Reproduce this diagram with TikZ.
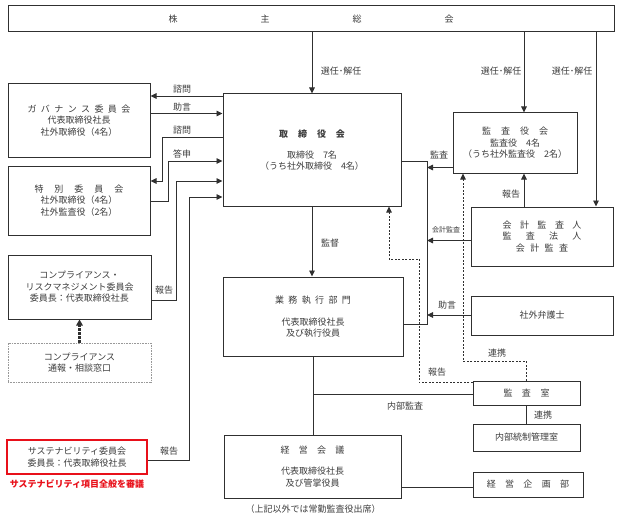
\documentclass[tikz,border=0pt]{standalone}
\usepackage{fontspec}
\setmainfont{Noto Sans CJK JP}
\usetikzlibrary{arrows.meta,calc}
\definecolor{ln}{HTML}{303030}
\definecolor{tx}{HTML}{3C3C3C}
\definecolor{rd}{HTML}{E8101A}
\newcommand\sk[1]{\hspace*{#1pt}}
\newcommand\bx[6][]{\node[box,#1,minimum width={(#5-#3)*1pt},minimum height={(#6-#4)*1pt}] (#2) at ({(#3+#5)/2},{(#4+#6)/2})}
\tikzset{
  box/.style={draw=ln, line width=1pt, rectangle, inner sep=0pt, align=center, text=tx, font=\fontsize{9}{11.5}\selectfont},
  con/.style={draw=ln, line width=0.9pt},
  arr/.style={con, -{Triangle[length=6pt,width=5.5pt]}},
  dsh/.style={draw=ln, line width=0.8pt, dash pattern=on 2pt off 1.5pt},
  darr/.style={dsh, -{Triangle[length=6pt,width=5.5pt]}},
  dotarr/.style={draw=ln, line width=2.2pt, dash pattern=on 2.4pt off 1.6pt, -{Triangle[length=6pt,width=6.5pt]}},
  lbl/.style={text=tx, font=\fontsize{9}{11}\selectfont, inner sep=0pt},
  slbl/.style={text=tx, font=\fontsize{7}{9}\selectfont, inner sep=0pt},
}
\begin{document}
\begin{tikzpicture}[x=1pt,y=-1pt]
\useasboundingbox (0,0) rectangle (619,519);

% boxes
\bx{gm}{8}{6}{614}{32}{株\sk{83}主\sk{83}総\sk{83}会};
\bx{bod}{223}{94}{401}{206}{\textbf{取\sk{10}締\sk{10}役\sk{10}会}\\[9.5pt]取締役　7名\\（うち社外取締役　4名）};
\bx{gov}{8}{84}{150}{157}{ガ\sk{4.4}バ\sk{4.4}ナ\sk{4.4}ン\sk{4.4}ス\sk{4.4}委\sk{4.4}員\sk{4.4}会\\代表取締役社長\\社外取締役（4名）};
\bx{spc}{8}{166}{150}{235}{特\sk{11}別\sk{11}委\sk{11}員\sk{11}会\\社外取締役（4名）\\社外監査役（2名）};
\bx{crm}{8}{255}{151}{319}{コンプライアンス・\\リスクマネジメント委員会\\委員長：代表取締役社長};
\bx[draw=gray!80, line width=0.6pt, dash pattern=on 1pt off 0.6pt]{cwin}{8}{343}{151}{382}{コンプライアンス\\通報・相談窓口};
\bx[draw=rd, line width=2pt]{sus}{7}{440}{147}{474}{サステナビリティ委員会\\委員長：代表取締役社長};
\node[text=rd, font=\fontsize{9}{11}\selectfont\bfseries, inner sep=0pt] (sustxt) at (77,484) {サステナビリティ項目全般を審議};
\bx{bex}{223}{277}{403}{356}{業\sk{4.4}務\sk{4.4}執\sk{4.4}行\sk{4.4}部\sk{4.4}門\\[10.5pt]代表取締役社長\\及び執行役員};
\bx{mgm}{224}{435}{401}{498}{経\sk{9.3}営\sk{9.3}会\sk{9.3}議\\[9.5pt]代表取締役社長\\及び管掌役員};
\node[lbl] (cap) at (313,509) {（上記以外では常勤監査役出席）};
\bx{kan}{453}{113}{577}{173}{監\sk{10}査\sk{10}役\sk{10}会\\監査役　4名\\（うち社外監査役　2名）};
\bx{acc}{471}{207}{613}{266}{会\sk{8.5}計\sk{8.5}監\sk{8.5}査\sk{8.5}人\\監\sk{14.3}査\sk{14.3}法\sk{14.3}人\\会\sk{5.4}計\sk{5.4}監\sk{5.4}査};
\bx{law}{471}{296}{613}{335}{社外弁護士};
\bx{aud}{473}{381}{580}{405}{監\sk{9.5}査\sk{9.5}室};
\bx{ict}{473}{424}{580}{451}{内部統制管理室};
\bx{plan}{473}{472}{583}{497}{経\sk{9.3}営\sk{9.3}企\sk{9.3}画\sk{9.3}部};

% helper coordinates
\coordinate (v2) at (524,0);
\coordinate (v3) at (596,0);
\coordinate (h1) at (0,96);
\coordinate (h2) at (0,113.5);
\coordinate (h3) at (0,137);
\coordinate (b3) at (162,181);
\coordinate (h4) at (0,201);
\coordinate (b4) at (168,161);
\coordinate (h5) at (0,300);
\coordinate (b5) at (176,181);
\coordinate (h6) at (0,460);
\coordinate (b6) at (189,197);
\coordinate (bx1) at (427,161);
\coordinate (bx2) at (427,324);
\coordinate (hk) at (0,167.5);
\coordinate (ha) at (0,240.5);
\coordinate (hl) at (0,315);
\coordinate (d1) at (526,361);
\coordinate (d2) at (463,361);
\coordinate (e0) at (0,382.5);
\coordinate (e1) at (419,382.5);
\coordinate (e2) at (419,259);
\coordinate (e3) at (389,259);
\coordinate (j) at (0,394.5);
\coordinate (v4) at (526,0);
\coordinate (h7) at (0,487.5);

% connectors from shareholders
\draw[arr] (gm.south -| bod.north) -- (bod.north);
\draw[arr] (gm.south -| v2) -- (kan.north -| v2);
\draw[arr] (gm.south -| v3) -- (acc.north -| v3);
\node[lbl] (s1) at (341,71) {選任･解任};
\node[lbl] (s2) at (501,71) {選任･解任};
\node[lbl] (s3) at (572,71) {選任･解任};

% left side
\draw[arr] (bod.west |- h1) -- (gov.east |- h1);
\draw[arr] (gov.east |- h2) -- (bod.west |- h2);
\draw[arr] (bod.west |- h3) -| (b3) -- (spc.east |- b3);
\draw[arr] (spc.east |- h4) -| (b4) -- (bod.west |- b4);
\draw[arr] (crm.east |- h5) -| (b5) -- (bod.west |- b5);
\draw[arr] (sus.east |- h6) -| (b6) -- (bod.west |- b6);
\draw[dotarr] (cwin.north) -- (crm.south);
\node[lbl] (q1) at (182,89) {諮問};
\node[lbl] (q2) at (182,107) {助言};
\node[lbl] (q3) at (182,130) {諮問};
\node[lbl] (q4) at (182,154) {答申};
\node[lbl] (r1) at (164,290) {報告};
\node[lbl] (r2) at (169,451) {報告};

% centre
\draw[arr] (bod.south) -- (bod.south |- bex.north);
\node[lbl] (k1) at (330,243) {監督};
\draw[con] (bod.east |- bx1) -- (bx1) -- (bx2) -- (bex.east |- bx2);
\draw[arr] (kan.west |- hk) -- (bx1 |- hk);
\draw[arr] (acc.west |- ha) -- (bx1 |- ha);
\draw[arr] (law.west |- hl) -- (bx1 |- hl);
\node[lbl] (k2) at (439,155) {監査};
\node[slbl] (k3) at (446,230) {会計監査};
\node[lbl] (k4) at (447,305) {助言};
\draw[arr] (acc.north -| v2) -- (kan.south -| v2);
\node[lbl] (k5) at (511,194) {報告};

% dashed
\draw[darr] (aud.north -| d1) -- (d1) -- (d2) -- (kan.south -| d2);
\node[lbl] (k6) at (497,353) {連携};
\draw[darr] (aud.west |- e0) -- (e1) -- (e2) -- (e3) -- (bod.south -| e3);
\node[lbl] (k7) at (437,372) {報告};

% lower
\draw[con] (bex.south) -- (bex.south |- mgm.north);
\draw[con] (bex.south |- j) -- (aud.west |- j);
\node[lbl] (k8) at (405,406) {内部監査};
\draw[con] (aud.south -| v4) -- (ict.north -| v4);
\node[lbl] (k9) at (543,415) {連携};
\draw[con] (mgm.east |- h7) -- (plan.west |- h7);
\end{tikzpicture}
\end{document}
